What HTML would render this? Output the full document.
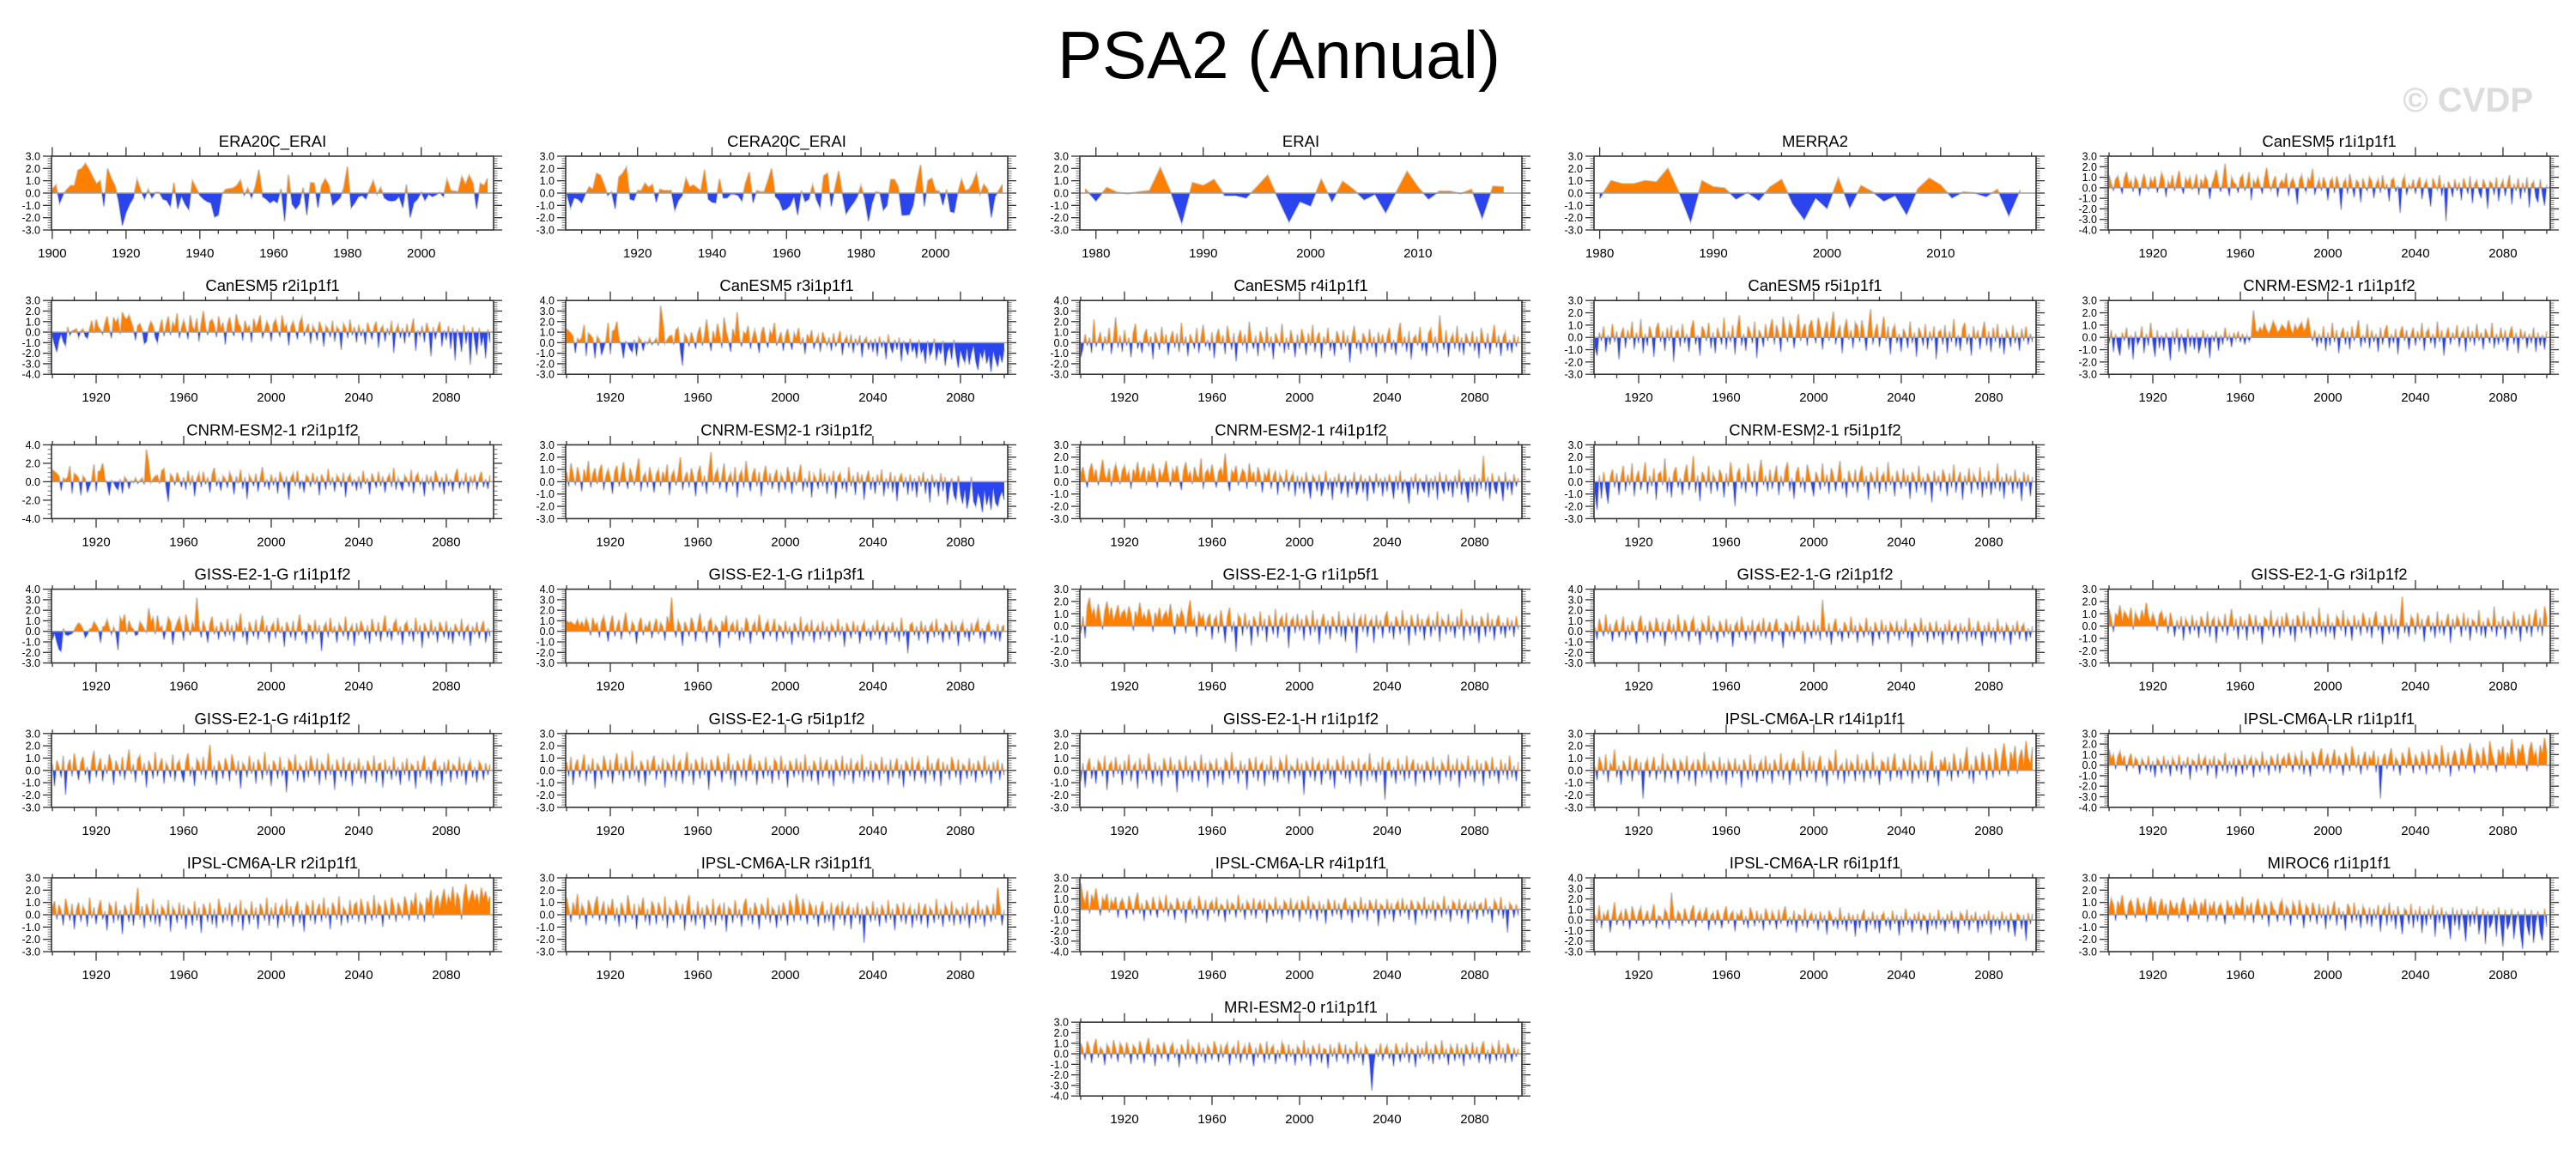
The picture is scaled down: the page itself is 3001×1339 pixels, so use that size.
<!DOCTYPE html>
<html><head><meta charset="utf-8"><title>PSA2 (Annual)</title>
<style>
html,body{margin:0;padding:0;background:#fff;}
svg{display:block;font-family:"Liberation Sans",Arial,sans-serif;}
</style></head>
<body>
<svg id="chart" xmlns="http://www.w3.org/2000/svg" width="3001" height="1339" viewBox="0 0 3001 1339">
<rect x="0" y="0" width="3001" height="1339" fill="#fff"/>
<text x="1490" y="91" font-size="78" text-anchor="middle" fill="#000">PSA2 (Annual)</text>
<text x="2951" y="130" font-size="40" font-weight="bold" text-anchor="end" fill="#dcdcdc">© CVDP</text>
<g id="panels"></g>
</svg>
<script>
const era20c=[0.3,0.65,-0.85,-0.1,0.3,0.6,0.6,1.85,2.0,2.4,1.9,1.3,0.75,1.0,-1.1,2.0,1.2,0.6,-0.7,-2.65,-1.6,-0.9,-0.4,1.1,0.2,-0.5,0.3,-0.4,0.05,0.05,-0.5,-0.6,-1.1,0.85,-1.3,-0.25,-0.9,-1.35,1.0,0.4,-0.2,-0.5,-0.7,-0.8,-1.95,-1.8,-0.1,0.3,0.35,0.4,0.6,1.05,-0.2,0.4,-0.4,0.5,1.9,-0.3,-0.5,-0.8,-0.6,-0.8,0.35,-2.3,1.5,-0.9,-1.3,-0.9,0.45,-1.8,0.85,0.8,-1.2,0.6,1.15,0.6,-1.0,-0.7,-0.4,0.4,2.15,-1.2,-0.8,-0.3,-0.2,-0.5,0.3,1.0,-0.1,0.45,-0.4,-0.6,-0.65,-0.6,-0.3,-1.2,0.7,-2.0,-0.8,-0.5,0.05,-0.6,-0.1,-0.3,-0.15,0.05,-0.3,1.1,0.2,0.15,0.1,1.35,0.7,1.45,0.8,-1.3,0.8,0.6,1.2];
const cera20c=[-0.1,-1.2,-0.4,-0.5,-0.8,-0.1,0.5,0.3,1.6,1.45,0.7,-0.2,0.1,-1.3,1.3,1.6,2.1,-0.5,-0.6,0.2,0.2,0.8,0.45,0.7,-0.75,0.3,0.2,0.2,0.2,-1.4,-0.6,-0.2,1.2,0.5,0.65,0.4,0.2,1.9,-0.5,-0.75,-0.8,1.15,-0.4,-0.4,-0.1,-0.1,-0.2,-0.65,0.8,1.7,-0.8,0.2,0.1,0.1,1.0,2.0,-0.3,-0.6,-1.4,-1.3,-1.0,-0.3,-1.8,0.2,-0.7,-0.5,0.65,-0.5,-1.2,1.4,1.6,-1.1,0.4,1.8,-0.1,-1.7,-1.2,-0.8,-0.3,0.6,-0.5,-2.3,-0.8,0.1,0.05,-1.4,-1.0,1.1,1.1,0.5,-1.8,-1.8,-1.75,-1.0,0.9,2.3,-1.1,1.0,1.2,0.2,0.15,-1.0,0.3,-1.5,-1.6,0.0,1.1,0.2,0.3,0.8,1.6,-0.1,0.7,0.3,-2.0,-0.3,0.2,0.7];
const erai=[0.35,-0.65,0.45,0.05,-0.05,0.1,0.2,2.05,0.0,-2.45,0.85,0.6,1.1,-0.2,-0.2,-0.4,0.5,1.45,-0.5,-2.35,-0.7,-1.05,1.1,-0.7,0.95,0.3,-0.55,-0.1,-1.6,0.1,1.75,0.5,-0.5,0.15,0.15,-0.05,0.3,-2.05,0.55,0.5];
const merra2=[-0.45,1.0,0.75,0.75,1.0,0.9,2.0,0.0,-2.35,1.0,0.5,0.4,-0.5,0.05,-0.6,0.5,1.1,-0.9,-2.15,-0.4,-1.25,1.2,-1.2,0.6,0.1,-0.65,-0.2,-1.75,0.35,1.2,0.65,-0.4,0.1,0.0,-0.3,0.3,-1.85,0.25];
const cs1=[1.2,0.4,-0.3,0.8,1.1,0.2,-0.6,0.9,1.5,0.3,0.7,-0.4,1.0,0.6,-0.8,0.5,1.3,0.2,-0.2,0.9,0.4,1.1,-0.5,0.3,1.4,0.8,-0.9,0.6,0.2,1.2,-0.3,0.7,1.6,0.1,-0.6,0.9,0.5,1.0,-0.2,0.4,1.3,-0.7,0.8,0.2,1.1,0.6,-1.1,0.3,0.9,1.7,0.4,-0.4,0.6,2.3,0.2,-0.8,1.0,0.5,0.3,-0.5,0.9,1.2,-0.3,0.4,1.5,-1.2,0.7,0.3,1.0,0.2,-0.6,0.8,1.9,0.5,-0.2,0.6,1.1,-0.9,0.4,0.7,0.3,1.4,-0.8,0.5,0.9,0.2,-1.6,0.7,1.2,0.1,-0.4,0.9,0.6,1.8,-0.7,0.2,0.8,-0.3,1.0,0.4,-1.2,0.6,0.9,-0.5,1.1,0.3,-2.1,0.4,0.8,-0.6,1.3,0.2,-0.9,0.7,0.5,-1.4,0.9,0.1,-0.3,1.0,0.6,-1.0,0.3,0.8,-0.5,1.2,-0.2,0.4,-1.3,0.7,0.9,-0.4,0.2,-2.4,0.6,1.1,-0.7,0.3,-0.1,0.8,-0.6,0.5,1.0,-1.1,0.2,0.7,-0.4,-1.8,0.9,0.3,-0.2,1.2,-0.8,0.4,-3.2,0.6,0.1,-0.9,0.8,-0.3,0.5,-1.2,0.9,0.2,-0.6,1.1,-1.5,0.3,0.7,-0.4,-1.0,0.8,0.2,-2.0,0.6,0.4,-0.7,1.0,-1.3,0.2,0.7,-0.8,0.3,1.2,-1.6,0.4,-0.3,0.9,-1.1,0.5,-0.5,1.0,-1.9,0.3,0.6,-0.9,-1.4,0.8,-0.6,-1.7,0.3];
const cs2=[-0.4,-1.2,-1.9,-0.8,-0.2,-0.9,-1.3,0.5,-0.3,0.1,0.2,0.3,-0.5,0.1,0.3,-0.4,-0.6,0.3,1.1,-0.1,1.2,0.5,0.2,-0.2,0.8,1.5,0.3,-0.6,1.4,0.9,1.3,-0.2,1.9,1.4,1.2,1.6,1.0,0.3,-0.8,0.6,0.8,0.2,-1.1,-0.9,0.4,1.0,0.6,-0.5,-1.0,0.3,1.2,-0.4,0.7,1.5,-0.3,0.9,0.5,1.8,-0.6,0.4,1.1,0.3,-0.7,1.6,0.5,0.2,1.3,-0.9,0.8,2.0,0.4,-0.3,1.0,1.2,0.6,-0.5,1.5,0.3,0.9,-1.2,0.7,1.4,0.2,-0.4,1.7,0.8,0.5,-0.8,1.1,0.3,0.6,-1.0,1.3,0.4,0.9,1.6,-0.6,0.2,1.0,0.5,-0.9,0.8,1.2,0.3,-0.5,1.6,0.4,0.7,-1.3,0.5,1.0,0.2,-0.7,0.9,1.4,-0.4,0.3,0.8,-1.1,0.6,0.2,-0.8,1.0,0.4,-1.4,0.6,0.3,-0.5,1.1,-0.9,0.5,0.2,-1.7,0.8,0.4,-0.6,1.2,-0.3,0.5,-1.0,0.7,-0.4,0.3,-1.2,0.9,0.2,-0.7,0.5,1.0,-1.5,0.3,0.6,-0.9,0.4,-0.3,1.1,-2.0,0.2,0.7,-0.6,0.4,-1.1,0.8,-0.5,0.3,1.3,-1.8,0.2,-0.4,0.6,-1.0,0.9,0.1,-2.3,0.5,-0.7,0.3,1.0,-1.4,0.2,-0.8,0.6,-1.6,0.4,-2.7,0.3,-0.5,-1.9,0.7,-1.1,0.2,-3.1,0.5,-0.9,-2.2,0.4,-1.3,-0.4,-2.5,0.3,-1.0];
const cs3=[1.3,1.1,0.9,0.6,-1.0,0.4,0.2,0.5,1.7,-1.3,0.9,0.7,0.4,-1.5,0.6,0.3,-1.2,-0.5,0.2,1.9,-1.1,1.1,1.2,2.0,0.3,-0.2,-1.5,0.1,-0.1,-0.6,-0.9,0.3,-1.3,0.5,0.2,-0.8,0.1,-0.1,0.4,-0.2,0.1,0.4,-0.3,3.5,2.0,-0.1,0.3,0.6,0.7,-0.2,1.2,1.4,-0.7,-2.2,0.8,0.5,-0.4,1.0,0.3,-0.6,0.9,1.5,-0.3,0.6,2.2,0.4,-0.8,1.1,0.3,1.8,0.7,-0.5,2.4,1.0,0.2,-0.9,1.3,0.6,2.9,0.4,-0.4,1.0,0.8,1.6,-0.6,0.5,1.2,0.3,-1.0,0.9,1.5,0.2,-0.5,1.1,0.7,1.9,-0.3,0.4,1.0,-0.8,0.6,1.3,0.2,-0.7,0.9,0.4,1.4,-0.2,0.5,-1.1,0.8,0.3,1.2,-0.6,0.2,0.7,-0.9,1.0,0.4,-0.3,0.5,-0.8,0.9,-0.4,0.3,1.1,-1.2,0.2,0.6,-0.5,0.8,-1.0,0.4,-0.3,0.7,-1.4,0.2,0.5,-0.7,0.3,-0.9,0.4,-1.3,0.6,-0.5,0.2,-1.6,0.8,-0.4,-1.0,0.3,-0.7,0.5,-1.8,0.2,-0.6,-1.2,0.4,-0.9,-0.3,-1.5,0.3,-1.0,-0.6,-2.0,0.2,-1.3,-0.8,0.4,-1.7,-0.5,-1.1,0.2,-2.2,-0.9,-0.4,-1.6,0.3,-1.2,-2.4,-0.7,-1.4,-1.9,-0.5,-2.1,-1.0,-0.3,-1.8,-2.6,-0.9,-1.5,-0.6,-2.0,-1.2,-2.8,-0.8,-1.6,-2.3,-1.1,-1.9,-0.6];
const cs4=[-1.4,-0.6,0.8,-0.3,0.5,-1.0,2.2,-0.4,0.3,1.0,-0.8,0.6,-0.2,1.4,-1.1,0.4,2.4,-0.5,0.7,-0.9,1.2,-0.3,0.5,-1.4,0.9,1.8,-0.6,0.2,-1.0,0.7,1.3,-0.4,0.6,-1.6,1.0,0.3,-0.7,1.5,-0.2,0.8,-1.2,0.4,1.1,-0.5,0.9,-0.9,1.9,-0.3,0.6,-1.3,0.8,0.2,-0.6,1.4,-1.0,0.5,1.7,-0.4,0.3,-0.8,1.0,-1.5,0.6,1.3,-0.2,0.7,-1.1,1.6,0.4,-0.7,0.9,-1.8,0.5,1.2,-0.3,0.8,-1.0,2.0,0.2,-0.6,0.7,-1.3,1.1,0.4,-0.8,1.5,-0.5,0.6,-1.6,0.9,0.3,-0.4,1.8,-1.0,0.5,-0.7,1.2,0.2,-1.4,0.8,-0.6,1.3,0.4,-1.2,0.9,-0.3,1.7,-0.9,0.5,1.0,-1.5,0.6,-0.2,1.4,-0.8,0.3,-1.3,1.1,0.5,-0.7,1.2,-0.4,0.7,-1.9,0.5,1.6,-0.6,0.3,-1.1,0.9,0.4,-0.8,1.3,-0.5,0.6,-1.4,1.0,-0.2,0.8,-1.0,0.5,1.4,-0.7,0.3,-1.2,0.8,1.9,-0.4,0.6,-0.9,1.1,-1.6,0.4,0.7,-0.3,1.5,-0.8,0.2,-1.3,0.9,1.3,-0.5,0.6,-1.0,2.6,0.4,-0.7,1.2,-1.4,0.3,0.8,-0.6,1.6,-0.9,0.5,-1.2,0.9,0.2,-0.4,1.1,-0.8,0.6,-1.5,1.4,0.3,-0.6,0.9,-1.1,0.4,1.7,-0.5,0.7,-1.3,0.5,1.0,-0.8,0.3,-1.0,0.8,-0.4,0.6];
const cs5=[-0.8,-1.5,0.4,-0.3,0.9,-1.2,0.2,-0.6,1.1,-0.4,0.5,-1.8,0.3,0.8,-0.9,0.6,-0.2,1.3,-1.0,0.4,-0.5,1.5,-1.3,0.3,-0.7,0.9,0.2,-1.6,0.7,1.2,-0.4,0.5,-1.1,0.8,-0.3,1.0,-2.0,0.4,0.6,-0.8,1.1,-0.5,0.3,-1.2,0.7,1.4,-0.6,0.2,-1.5,0.9,0.5,-0.3,1.2,-0.9,0.4,-1.3,0.8,0.1,-0.6,1.6,-1.0,0.5,-0.4,1.0,-1.4,0.6,1.8,-0.7,0.3,-1.1,0.9,0.4,-0.5,1.3,-1.7,0.6,0.2,-0.8,1.1,-0.3,0.7,1.5,-0.6,1.0,0.3,-1.2,1.7,0.5,-0.4,1.2,0.8,-0.9,0.4,1.9,-0.3,0.6,1.1,-0.7,0.9,1.4,0.3,-0.5,1.6,0.8,-1.0,0.5,1.3,-0.3,0.9,2.1,-0.6,0.4,1.0,-1.3,0.7,1.5,-0.2,0.6,-0.9,1.2,0.9,-0.4,1.4,0.3,-1.1,0.8,2.3,-0.6,0.5,1.1,-0.8,0.4,1.7,-0.3,0.9,-1.4,0.6,1.0,-0.5,0.3,-1.2,0.7,0.2,-0.9,1.3,-0.5,0.4,-1.6,0.8,0.3,-0.7,1.1,-1.0,0.5,-0.3,0.9,-1.8,0.4,0.6,-0.6,1.0,-1.3,0.5,-0.4,1.5,-0.8,0.2,-1.1,0.7,1.2,-0.6,0.3,-1.5,0.9,-0.2,0.6,-1.0,0.4,1.3,-0.7,0.5,-1.2,0.8,-0.4,1.1,-0.9,0.3,-1.4,0.6,0.2,-0.8,1.0,-0.5,0.4,-1.1,0.7,-0.3,0.9,-0.6,0.3,-0.4];
const cn1=[-0.5,0.6,-1.2,0.3,-0.8,-1.5,0.4,-0.3,0.8,-1.0,0.2,-1.8,0.5,-0.6,-0.2,0.9,-1.3,0.3,-0.7,1.2,-0.4,-1.6,0.6,-0.9,0.2,-1.1,0.4,-0.3,-1.9,0.5,-0.6,0.8,-1.2,0.3,-0.5,-1.4,0.7,-0.8,0.2,-1.0,0.4,-1.3,-0.5,0.6,-0.9,0.3,-1.7,0.2,-0.4,0.5,-1.1,0.2,-0.6,0.8,-0.3,0.2,-0.8,0.4,-0.2,0.5,-0.4,0.3,-0.6,0.2,-0.3,0.1,2.2,0.6,0.4,0.8,0.5,1.1,0.6,0.3,0.7,1.3,0.9,0.4,0.6,1.0,0.8,0.5,1.4,0.7,0.3,1.0,0.6,0.9,1.2,0.5,0.8,1.6,0.4,-0.3,0.6,-0.8,0.3,-0.5,0.9,-1.1,0.4,-0.7,1.2,-0.4,0.6,-1.3,0.3,0.8,-0.6,0.5,-1.0,0.9,-0.3,0.4,1.4,-0.8,0.2,-0.5,1.1,-0.9,0.6,-0.4,0.3,-1.2,0.8,-0.6,0.5,1.0,-0.9,0.3,-0.5,0.7,-1.4,0.4,0.9,-0.3,0.6,-1.0,0.2,0.8,-0.7,0.5,-0.3,1.2,-1.1,0.4,0.7,-0.5,0.3,-0.9,1.3,-0.4,0.6,-1.5,0.2,0.8,-0.6,0.4,-0.2,1.0,-0.8,0.3,0.6,-1.2,0.9,-0.4,0.5,-0.7,1.1,-0.3,0.4,-1.0,0.7,0.2,-0.5,1.2,-0.9,0.3,-0.6,0.8,-0.4,0.6,-1.1,0.3,0.9,-0.6,0.4,-1.3,0.7,-0.2,0.5,-0.9,0.3,-0.5,0.8,-1.2,0.4,-0.7,0.2,-1.0,0.5];
const cn2=[1.3,1.1,0.9,0.6,-1.0,0.4,0.2,0.5,1.7,-1.3,0.9,0.7,0.4,-1.5,0.6,0.3,-1.2,-0.5,0.2,1.9,-1.1,1.1,1.2,2.0,0.3,-0.2,-1.5,0.1,-0.1,-0.6,-0.9,0.3,-1.3,0.5,0.2,-0.8,0.1,-0.1,0.4,-0.2,0.1,0.4,-0.3,3.5,2.0,-0.1,0.3,0.6,0.7,-0.2,1.2,1.4,-0.7,-2.2,0.8,0.5,-0.4,1.0,0.3,-0.6,0.5,-0.9,1.2,-0.4,0.7,-1.6,0.3,0.9,-0.6,1.1,-0.3,0.5,-1.2,0.8,1.5,-0.5,0.2,-1.0,0.6,0.3,-0.7,1.0,0.4,-1.4,0.6,-0.2,1.3,-0.8,0.5,-1.9,0.7,0.2,-0.5,0.9,-1.1,0.4,1.6,-0.6,0.3,-0.9,0.8,-0.4,0.5,-1.3,1.1,0.3,-0.7,0.6,-2.0,0.4,0.9,-0.5,1.2,-0.8,0.2,-1.2,0.7,0.4,-0.6,1.0,-0.3,0.6,-1.5,0.8,0.2,-0.9,1.4,-0.4,0.5,-1.1,0.7,0.3,-0.6,1.0,-1.7,0.4,0.8,-0.5,0.3,-1.0,0.6,-0.8,1.2,-0.3,0.4,-1.4,0.9,0.2,-0.7,1.1,-0.5,0.6,-1.2,0.3,0.8,-0.6,1.5,-0.9,0.4,-0.3,-1.0,0.7,0.3,-0.6,1.3,-1.3,0.5,0.9,-0.4,0.2,-1.6,0.8,-0.3,0.6,-1.0,1.2,0.4,-0.7,0.5,-1.4,0.9,-0.5,0.3,-1.1,0.7,1.4,-0.8,0.2,-0.4,1.0,-1.3,0.6,-0.2,0.8,-0.9,0.4,1.1,-0.6,0.3,-0.8,0.7];
const cn3=[0.8,-0.4,1.5,0.6,-0.3,1.2,0.4,-0.8,1.0,0.3,1.7,-0.5,0.6,1.1,-0.2,0.9,1.4,-0.7,0.5,1.0,0.3,-1.0,0.8,1.3,-0.4,0.6,1.6,0.2,-0.6,1.1,0.5,-0.3,0.9,1.9,-0.8,0.4,0.7,-0.5,1.2,0.3,-0.9,0.6,1.0,-0.4,0.8,0.2,1.4,-1.1,0.5,0.9,-0.3,0.6,2.0,-0.7,0.3,0.8,-0.5,1.1,0.4,-1.2,0.7,1.3,-0.4,0.5,-1.0,0.9,2.4,-0.3,0.6,1.0,-0.6,0.4,1.5,-0.9,0.3,0.7,-0.4,1.2,-1.3,0.5,0.9,-0.5,1.7,0.3,-0.8,0.6,1.1,-0.4,0.8,-1.2,0.5,1.3,-0.3,0.7,-0.6,0.4,1.0,-0.9,0.6,0.2,-0.7,1.2,0.4,-1.0,0.8,-0.3,0.5,1.4,-0.8,0.3,-0.5,0.9,-1.3,0.6,0.2,-0.6,1.1,-0.4,0.7,-1.0,0.5,-0.3,0.9,-1.4,0.4,0.7,-0.6,0.3,-0.9,1.2,-0.4,0.5,-1.1,0.8,-0.2,0.6,-1.5,0.3,0.9,-0.7,0.4,-1.0,0.6,-0.3,1.0,-1.2,0.3,-0.6,0.8,-0.9,0.5,-1.6,0.2,0.7,-0.5,0.4,-1.1,0.6,-0.8,0.3,-1.3,0.5,-0.4,0.8,-1.0,0.3,-1.7,0.6,-0.5,0.2,-1.2,0.7,-0.8,0.4,-1.9,-0.6,0.3,-1.1,-1.5,0.5,-1.0,-1.8,-0.6,-2.2,-1.3,0.4,-1.6,-2.0,-0.9,-1.4,-2.5,-0.7,-1.9,-1.1,-2.3,-0.5,-1.7,-2.0,-1.2,-0.8,-1.5];
const cn4=[0.6,1.2,0.3,-0.5,0.9,1.5,0.4,1.0,-0.3,0.7,1.8,0.5,0.2,1.1,-0.4,0.8,1.4,0.6,-0.2,0.9,1.3,0.4,0.8,-0.6,1.0,0.5,1.6,0.2,0.7,1.2,-0.3,0.9,0.4,1.5,0.6,-0.5,1.1,0.3,0.8,1.7,0.5,-0.4,1.0,0.6,1.3,0.2,-0.7,0.9,1.6,0.4,0.8,-0.2,1.2,0.5,0.3,1.9,-0.6,0.7,1.0,0.4,1.4,0.3,-0.5,0.8,1.1,0.5,2.3,0.2,-0.8,0.9,0.6,1.3,-0.3,0.4,1.0,0.7,-0.6,1.5,0.3,0.8,-0.4,1.2,0.5,-0.9,0.7,0.3,1.1,-0.6,0.4,0.9,-1.1,0.6,0.2,-0.5,1.0,-0.8,0.3,0.7,-1.2,0.5,-0.6,0.4,-1.0,0.8,-0.3,-1.4,0.5,0.2,-0.8,0.6,-1.2,-0.4,0.9,-0.7,0.3,-1.5,0.4,-0.5,0.7,-1.0,-0.3,0.5,-1.3,0.2,-0.6,0.8,-1.1,-0.4,0.6,-0.9,0.3,-1.6,0.5,-0.2,-1.0,0.7,-0.5,0.3,-1.2,0.4,-0.8,0.6,-0.3,-1.4,0.5,-0.7,0.9,-1.0,0.2,-0.5,-1.8,0.4,-0.6,0.7,-1.1,0.3,-0.4,-0.9,0.6,-1.3,0.3,-0.7,0.5,-1.5,0.8,-0.4,-1.0,0.6,-0.8,0.2,-1.3,0.5,-0.6,1.0,-1.1,0.3,-0.5,-1.7,0.4,-0.9,0.6,-1.2,0.3,-0.6,2.1,-0.8,0.4,-1.4,0.7,-0.5,-1.0,0.5,-0.3,-1.6,0.8,-0.7,0.2,-1.1,0.6,-0.4,0.3];
const cn5=[-0.9,-2.3,0.5,-1.4,0.8,-0.6,-1.8,0.3,1.0,-0.5,0.7,-1.1,0.4,1.3,-0.8,0.6,-0.3,1.5,-1.2,0.4,0.9,-0.7,0.3,1.6,-1.0,0.5,-0.4,1.1,-1.5,0.6,0.8,-0.3,1.9,-0.9,0.4,-1.3,0.7,1.2,-0.5,0.3,-1.1,0.6,1.4,-0.7,0.3,2.1,-0.9,0.5,-1.6,0.8,0.4,-0.5,1.3,-1.0,0.6,0.2,-0.8,1.0,0.5,-1.3,0.7,-0.4,1.6,0.3,-2.0,0.6,1.1,-0.6,0.4,-0.9,1.5,0.2,-0.5,0.9,-1.2,0.7,1.8,-0.3,0.5,-0.8,1.0,-0.6,0.4,1.3,-1.1,0.5,-0.4,0.9,1.6,-0.8,0.3,-1.4,0.7,1.2,-0.5,0.4,-0.9,1.4,0.6,-0.3,-1.2,0.8,0.3,-0.7,1.5,-0.4,0.6,-1.0,1.1,0.5,-0.8,0.4,1.7,-0.6,0.3,-1.3,0.9,0.2,-0.5,1.0,-0.9,0.6,1.3,-0.4,0.5,-1.5,0.8,0.3,-0.6,1.2,-1.0,0.4,0.7,-0.8,1.6,-0.3,0.5,-1.2,0.9,0.2,-0.6,1.1,-0.4,0.6,-1.4,0.8,0.3,-0.9,1.3,-0.5,0.4,-1.1,0.7,0.2,-1.7,0.9,-0.3,0.5,-0.8,1.0,0.4,-1.2,0.7,-0.5,1.4,-0.9,0.3,0.8,-1.5,0.5,-0.3,1.1,-1.0,0.6,0.2,-0.7,1.2,-1.3,0.4,-0.6,0.9,-1.1,0.3,-0.6,1.5,-0.8,0.4,-1.4,0.7,-0.3,0.5,-1.0,1.0,-0.6,0.3,-1.6,0.8,-0.4,0.6,-1.2,0.4];
const gs1=[-0.8,-0.2,-1.0,-1.7,-1.9,0.3,-0.3,-0.4,-0.3,-0.2,0.1,0.5,0.8,0.6,0.2,-0.6,-0.3,0.2,0.3,0.9,0.6,0.2,-1.1,0.4,0.5,1.1,0.3,-0.3,0.4,-0.2,-1.8,1.3,0.9,1.6,-0.3,1.0,0.4,0.2,-0.4,-0.3,0.9,0.6,0.2,-0.1,2.2,0.9,1.3,-0.3,1.5,0.3,0.5,-0.8,0.2,1.3,0.9,-1.3,0.2,0.8,1.3,0.4,-0.9,1.6,0.6,-0.4,0.8,0.3,3.2,0.5,-0.6,1.0,0.2,-1.1,0.7,1.4,-0.3,0.5,-0.8,0.9,0.3,-0.5,1.2,-0.4,0.6,-1.0,0.8,0.3,1.7,-0.6,0.4,-1.3,0.9,0.2,-0.5,1.1,-0.8,0.5,1.5,-0.3,0.6,-1.1,0.4,0.8,-0.7,1.3,-0.2,0.5,-1.5,0.9,0.3,-0.6,1.0,-0.9,0.4,1.6,-0.4,0.2,-1.2,0.7,0.5,-0.8,1.1,-0.3,0.6,-1.9,0.4,0.8,-0.6,1.3,-0.2,0.5,-1.1,0.7,0.3,-0.5,1.4,-0.9,0.2,0.6,-1.4,0.8,-0.4,1.0,0.3,-0.8,0.6,-1.2,1.2,0.2,-0.5,0.9,-1.0,0.4,1.5,-0.6,0.3,-0.9,0.7,1.1,-0.4,0.5,-1.3,0.6,0.9,-0.5,0.3,-1.0,1.3,-0.3,0.6,-1.6,0.8,0.2,-0.7,1.1,-0.4,0.5,-1.1,0.9,0.3,-0.6,1.0,-0.8,0.4,-1.2,0.7,0.2,-0.5,1.2,-0.9,0.3,0.6,-1.4,0.5,-0.3,0.9,-0.7,0.4,1.0,-1.1,0.3,-0.5];
const gs2=[1.0,0.8,0.9,0.7,0.6,1.1,0.5,0.9,0.4,1.2,0.6,-0.4,1.3,0.5,0.8,-0.6,0.9,1.4,0.3,-1.0,0.7,1.5,-0.5,0.4,1.1,-0.8,0.6,1.8,0.2,-0.3,0.9,0.5,-1.2,0.7,1.3,-0.4,0.6,0.3,1.0,-0.7,0.5,1.2,-0.3,0.8,0.4,-0.9,1.4,0.6,3.2,0.3,-0.6,1.0,0.5,-1.4,0.9,0.4,-0.5,1.3,0.7,-1.0,0.6,1.7,-0.2,0.5,-1.1,0.9,1.2,-0.4,0.6,0.3,-1.6,1.0,0.4,1.5,-0.7,0.5,0.8,-0.3,1.1,-0.9,0.4,-0.6,1.3,0.7,-1.2,0.5,0.9,-0.4,1.6,0.2,-0.8,0.6,1.0,-0.5,0.3,1.2,-1.0,0.6,0.4,-0.7,1.0,-0.3,0.5,-1.3,0.8,0.3,-0.6,1.4,-0.9,0.4,0.7,-0.5,1.1,-1.1,0.2,0.6,-0.8,1.0,-0.4,0.5,-1.0,0.7,0.3,-0.6,1.2,-0.4,0.5,-1.5,0.8,0.2,-0.7,1.0,-0.3,0.6,-1.2,0.4,0.9,-0.5,0.3,-0.9,0.6,-0.4,1.1,-0.8,0.3,0.7,-1.3,0.5,-0.2,0.9,-0.6,0.4,-1.0,1.3,-0.5,0.2,-2.1,0.6,0.8,-0.4,0.5,-0.9,1.0,-0.3,0.6,-1.2,0.4,0.8,-0.6,1.2,-0.4,0.3,-1.1,0.7,0.5,-0.8,1.0,-0.3,0.6,-1.4,0.4,0.9,-0.6,0.3,-1.0,0.8,-0.4,0.6,1.1,-0.7,0.3,-1.2,0.5,0.9,-0.5,0.2,-0.8,0.7,-1.0,0.4,0.6];
const gs3=[-0.6,0.8,-1.0,1.6,2.3,0.9,1.4,0.5,1.8,0.7,-0.3,1.2,2.0,0.8,1.5,0.4,1.0,1.7,0.6,1.1,1.3,0.5,1.6,0.9,-0.4,1.2,0.7,1.9,0.6,1.0,0.4,1.4,0.8,-0.5,1.1,0.6,1.5,0.3,0.9,1.2,0.6,1.8,0.4,-0.7,1.0,0.5,1.3,0.8,-0.6,1.1,2.1,0.3,0.7,-0.9,1.2,0.5,0.9,-0.4,0.6,1.0,-1.1,0.5,0.8,-0.6,1.3,0.2,-1.4,0.7,1.5,-0.5,0.4,-2.1,0.9,0.6,-0.8,1.1,-0.3,0.5,-1.6,0.8,0.3,-0.9,1.2,-0.4,0.6,-1.3,0.9,0.2,-0.7,1.4,-1.0,0.5,0.8,-0.5,1.1,-1.8,0.4,0.7,-0.6,1.0,-0.4,0.6,-1.2,0.9,0.3,-0.8,1.3,-0.5,0.6,-1.5,0.4,1.0,-0.7,0.5,-1.1,0.8,0.2,-0.6,1.2,-0.9,0.5,-1.3,0.7,0.3,-0.6,1.1,-2.2,0.4,0.8,-0.5,1.0,-0.9,0.3,0.6,-1.4,0.9,-0.3,0.5,-1.0,0.7,1.2,-0.6,0.4,-1.1,0.8,0.3,-0.7,1.3,-0.4,0.5,-1.6,0.9,0.2,-0.8,1.0,-0.5,0.6,-1.2,0.4,0.8,-0.9,0.5,-0.4,1.2,-1.3,0.6,0.3,-0.7,1.0,-0.5,0.4,-1.0,0.8,-0.3,1.4,-1.2,0.5,0.2,-0.8,0.9,-0.6,0.4,-1.4,0.8,0.3,-0.9,1.1,-0.5,0.6,-1.2,0.4,0.9,-0.7,0.3,-1.0,0.7,-0.4,0.5,-0.9,0.8,-0.3];
const gs4=[0.4,-0.8,1.2,0.3,-0.5,1.6,-0.3,0.7,-1.0,0.5,1.1,-0.6,0.3,1.4,-0.9,0.6,-0.4,1.0,0.2,-1.2,0.8,1.5,-0.4,0.6,-1.1,1.0,0.3,-0.7,1.3,0.5,-0.5,0.9,-1.4,0.4,1.2,-0.3,0.7,-0.9,1.6,0.2,-0.6,1.1,0.4,-1.0,0.8,1.3,-0.5,0.3,-1.3,0.9,0.5,-0.4,1.5,-0.8,0.6,0.2,-1.1,1.0,0.4,-0.6,1.2,-0.3,0.7,-1.5,0.5,0.9,-0.6,1.4,0.3,-0.9,0.6,-0.4,1.1,-1.2,0.4,0.8,-0.5,1.3,-0.7,0.3,0.9,-1.0,0.5,1.2,-0.4,0.3,-1.6,0.8,0.6,-0.5,1.0,-0.8,0.4,1.5,-0.3,0.6,-1.2,0.9,0.2,-0.7,1.1,-0.4,0.6,-0.9,3.0,0.4,-0.6,0.8,-1.3,0.5,1.2,-0.5,0.3,-1.0,0.9,0.4,-0.7,1.4,-0.3,0.6,-1.1,0.7,0.3,-0.6,1.3,-0.4,0.5,-1.4,0.9,0.2,-0.8,1.1,-0.3,0.6,-1.2,0.8,0.4,-0.5,1.0,-0.9,0.5,-0.3,1.2,-0.7,0.4,-1.5,0.8,0.3,-0.6,1.3,-0.4,0.6,-1.1,0.9,0.2,-0.8,1.0,-0.5,0.4,-1.3,0.7,-0.4,1.1,-0.9,0.3,0.6,-1.2,0.8,-0.3,0.5,-1.0,1.3,-0.6,0.4,-0.8,1.0,0.2,-1.4,0.6,-0.5,0.9,-0.7,0.4,-1.1,1.2,-0.3,0.5,-0.9,0.7,0.3,-1.3,0.6,-0.4,1.0,-0.8,0.4,0.7,-1.0,0.3,-0.6,0.5];
const gs5=[1.4,0.6,-0.5,1.0,0.8,1.7,0.4,1.2,0.9,0.5,1.5,-0.3,1.1,0.7,0.4,1.3,0.6,1.9,0.8,0.3,1.0,0.5,-0.4,0.9,1.2,0.4,0.7,-0.6,1.1,0.3,-0.9,0.5,-0.3,0.8,-1.2,0.6,0.2,-0.7,0.9,-0.4,0.5,-1.0,0.8,0.3,-0.6,1.2,-0.9,0.4,0.7,-1.4,0.6,0.2,-0.5,1.0,-0.8,0.3,1.4,-0.4,0.6,-1.1,0.8,-0.3,0.5,-1.2,1.0,0.4,-0.7,0.9,-0.5,0.3,-1.5,0.7,0.5,-0.4,1.3,-0.9,0.2,0.6,-1.0,0.8,-0.5,1.1,0.3,-0.8,0.6,-1.3,0.9,0.4,-0.6,1.2,-0.4,0.5,-1.0,0.8,0.3,-0.7,1.5,-0.5,0.4,-0.9,1.0,-0.6,0.3,-1.1,0.8,0.5,-0.4,1.3,-0.9,0.6,0.2,-1.2,0.9,-0.3,0.5,-0.8,1.1,0.4,-0.6,0.7,-1.0,0.5,1.2,-0.4,0.3,-1.5,0.9,0.2,-0.7,1.0,-0.5,0.6,-1.1,0.4,2.4,-0.6,0.3,-0.9,0.8,0.5,-0.7,1.1,-0.3,0.6,-1.3,0.4,0.9,-0.5,0.3,-1.0,1.2,-0.6,0.5,-0.8,0.3,1.0,-1.4,0.6,-0.3,0.8,0.4,-0.9,1.1,-0.4,0.7,-1.2,0.5,0.3,-0.6,1.3,-0.8,0.4,-1.0,0.7,0.2,-0.5,1.6,-0.9,0.4,-0.3,0.8,-1.1,0.5,0.3,-0.7,1.2,-0.4,0.6,-1.3,0.9,0.3,-0.6,1.0,-0.9,0.5,1.4,-0.5,0.7,-0.8,1.6,0.6];
const gs6=[0.5,-1.3,0.8,0.3,-0.6,1.2,-2.0,0.4,0.9,-0.5,1.4,0.2,-0.8,0.6,1.1,-0.4,0.3,-1.1,0.7,1.6,-0.6,0.4,1.0,-0.9,0.5,-0.3,1.3,0.6,-1.2,0.8,0.3,-0.5,1.1,-0.8,0.4,1.7,-0.3,0.5,-1.0,0.9,1.2,-0.4,0.6,-1.4,0.8,0.3,-0.7,1.5,-0.5,0.4,1.0,-1.1,0.6,0.2,-0.6,1.3,-0.9,0.5,0.8,-0.3,-1.0,0.7,1.4,-0.5,0.3,-1.3,0.9,0.6,-0.4,1.1,-0.8,0.5,2.1,-0.6,0.4,-1.2,0.8,0.3,-0.7,1.0,0.4,-0.9,1.3,0.5,-0.4,0.8,-1.5,0.6,0.3,-0.6,1.2,-0.3,0.7,-1.1,0.9,0.4,-0.8,1.5,-0.4,0.5,-1.3,0.8,0.4,-0.7,1.1,-0.5,0.3,-1.8,0.9,0.6,-0.4,1.3,-0.9,0.5,0.2,-1.0,0.8,-0.6,1.2,0.4,-0.5,1.0,-1.2,0.6,0.3,-0.8,1.4,-0.4,0.5,-1.6,0.9,0.2,-0.6,1.1,-0.9,0.4,0.7,-1.3,0.6,-0.3,1.0,-0.7,0.4,-1.1,0.8,0.3,-0.5,1.2,-1.0,0.5,0.6,-1.4,0.9,-0.3,0.4,-0.8,1.1,-0.5,0.3,-1.2,0.7,-0.4,1.0,-0.9,0.5,0.3,-1.5,0.8,-0.6,0.4,1.2,-0.8,0.3,-1.1,0.6,0.9,-0.5,0.4,-1.3,0.7,-0.3,0.9,-1.0,0.5,0.3,-0.7,1.1,-0.5,0.6,-1.2,0.4,0.8,-0.6,0.3,-1.0,0.7,0.4,-0.8,0.6,-0.4,0.5];
const gs7=[0.7,-0.5,1.1,-1.2,0.4,0.9,-0.6,0.3,1.3,-0.9,0.5,-0.3,1.0,-1.5,0.6,0.2,-0.8,1.2,0.4,-0.6,0.9,-1.1,0.5,1.4,-0.4,0.6,-0.9,1.1,0.3,-0.7,1.6,-0.5,0.4,-1.0,0.8,0.3,-1.3,0.9,-0.4,0.6,1.2,-0.8,0.5,-0.3,1.0,-1.4,0.7,0.4,-0.6,1.3,-0.9,0.5,0.8,-1.1,0.3,1.5,-0.5,0.6,-1.2,0.9,0.4,-0.7,1.1,-0.4,0.6,-1.6,0.9,0.3,-0.5,1.2,0.4,-1.0,0.7,-0.3,1.4,-0.8,0.5,-1.3,0.8,0.3,-0.6,1.0,-0.9,0.5,1.3,-0.4,0.6,-1.2,0.8,0.2,-0.7,1.1,-0.5,0.4,-1.1,0.9,0.6,-0.8,1.2,-0.3,0.5,-1.4,0.8,0.3,-0.6,1.0,-0.4,0.7,-1.0,1.3,-0.5,0.4,-0.9,0.8,0.3,-1.2,1.1,-0.6,0.4,0.9,-0.7,0.5,-1.3,0.9,0.3,-0.5,1.2,-0.8,0.6,-0.4,1.0,-1.1,0.4,0.7,-0.6,1.3,-0.9,0.3,-0.5,0.8,-1.0,0.6,0.4,-0.8,1.1,-0.3,0.5,-1.2,0.9,-0.6,0.3,1.0,-0.7,0.5,-1.4,0.8,0.4,-0.5,1.1,-0.9,0.4,0.8,-0.6,0.3,-1.1,1.2,-0.4,0.6,-0.9,0.5,1.0,-1.3,0.7,-0.3,0.5,-0.8,1.1,0.4,-0.6,0.9,-1.2,0.5,0.3,-0.7,1.0,-0.5,0.6,-1.0,0.8,0.3,-0.6,1.2,-0.4,0.5,-1.1,0.7,-0.3,0.9,-0.8,0.6,-0.4];
const gh=[-0.9,0.6,-1.4,0.4,1.0,-0.7,0.3,-1.1,0.8,0.5,-0.5,1.2,-1.6,0.4,0.7,-0.6,1.1,-0.3,0.5,-1.2,0.8,-0.4,1.3,-0.9,0.3,0.6,-1.5,1.0,-0.3,0.5,-0.8,1.4,0.2,-1.1,0.7,-0.5,0.4,-1.3,1.0,0.3,-0.6,1.1,-0.4,0.5,-1.8,0.9,0.3,-0.7,1.2,-0.5,0.4,-1.0,0.8,0.2,-0.9,1.3,-0.4,0.6,-1.4,0.7,0.4,-0.8,1.0,-0.5,0.3,-1.2,0.9,0.6,-0.7,1.5,-0.4,0.3,-1.1,0.8,-0.3,0.5,-1.6,1.0,0.4,-0.6,1.1,-0.9,0.4,0.7,-1.3,0.5,-0.4,1.2,-0.8,0.3,-1.0,0.9,0.5,-0.6,1.3,-1.1,0.4,0.2,-0.7,1.0,-0.5,0.6,-2.0,0.8,0.3,-0.6,1.1,-0.9,0.4,0.7,-1.2,0.5,-0.3,1.0,-0.8,0.4,-1.5,0.9,0.3,-0.4,1.2,-0.7,0.5,-1.1,0.8,0.3,-0.6,1.0,-1.3,0.4,0.6,-0.9,1.4,-0.5,0.3,-1.0,0.7,-0.4,1.1,-2.4,0.5,0.8,-0.6,0.3,-1.1,1.0,-0.4,0.5,-0.9,1.2,-0.7,0.4,0.9,-1.3,0.6,-0.3,0.5,-1.0,0.8,0.3,-0.8,1.1,-0.5,0.4,-1.2,0.7,0.3,-0.6,1.3,-0.9,0.5,-0.4,1.0,-1.4,0.6,0.3,-0.7,1.2,-0.5,0.4,-1.0,0.9,-0.3,0.6,-1.3,0.8,0.4,-0.7,1.1,-0.5,0.3,-1.1,0.9,-0.4,0.6,-0.8,1.2,-0.6,0.4,-0.9,0.7];
const ip14=[0.3,-0.8,1.1,0.5,-0.4,1.3,-1.0,0.6,0.2,1.7,-0.6,0.4,-1.2,0.8,0.3,-0.5,1.2,-0.9,0.5,1.0,-0.4,0.7,-2.3,0.5,0.9,-0.6,0.3,1.1,-0.8,0.4,-0.3,1.4,-1.0,0.6,0.2,-0.7,1.0,0.4,-1.1,0.8,0.5,-0.5,1.2,-0.9,0.3,0.7,-1.3,0.9,0.4,-0.6,1.5,-0.4,0.5,-1.0,0.8,0.3,-0.7,1.1,-0.5,0.6,-1.2,0.8,0.4,-0.6,1.0,-0.3,0.5,-1.4,0.9,0.3,-0.8,1.3,-0.5,0.6,-1.0,0.4,0.8,-0.7,1.2,-0.4,0.6,-1.1,0.9,0.3,-0.5,1.4,-0.8,0.4,0.7,-1.2,0.5,1.0,-0.4,0.6,-0.9,1.6,0.3,-0.6,1.1,-0.3,0.8,-1.0,0.5,1.2,-0.6,0.4,-1.3,0.9,0.6,-0.4,1.7,-0.8,0.3,0.5,-1.1,1.0,-0.5,0.7,0.4,-0.9,1.3,-0.4,0.6,-1.0,0.9,0.3,-0.7,1.5,-0.5,0.4,-1.2,0.8,0.6,-0.3,1.1,-0.9,0.5,1.4,-0.6,0.3,-0.8,1.0,0.4,-0.5,1.3,-1.1,0.6,0.3,-0.7,1.2,-0.4,0.8,-1.0,0.5,1.6,-0.6,0.4,-1.3,0.9,0.3,1.1,-0.5,0.7,-0.9,1.4,0.4,-0.6,1.0,-0.3,0.8,1.9,-0.7,0.5,-1.1,1.2,0.4,-0.4,1.5,0.6,-0.8,1.3,0.5,-0.6,1.8,0.9,-0.4,1.2,2.2,0.6,-0.5,1.5,0.8,2.0,-0.3,1.1,1.7,0.4,2.4,1.0,0.6,1.9];
const ip1=[1.5,0.6,1.0,-0.4,0.8,1.3,0.3,0.9,-0.6,0.5,1.1,-0.3,0.7,0.4,-0.9,0.6,0.2,-0.5,0.9,-0.7,0.4,-1.2,0.6,0.3,-0.8,0.9,-0.4,0.5,-1.1,0.7,0.2,-0.6,1.0,-0.9,0.4,-0.3,0.8,-1.4,0.5,0.3,-0.7,1.1,-0.5,0.4,0.8,-1.0,0.6,-0.3,0.9,-1.3,0.5,0.3,-0.6,1.2,-0.8,0.4,-0.4,0.7,-1.1,0.6,0.3,-0.9,1.0,-0.5,0.4,0.8,-1.2,0.6,0.3,-0.7,1.3,-0.4,0.5,-1.0,0.9,0.4,-0.6,1.1,-0.8,0.5,0.8,-0.3,1.2,0.4,-0.7,1.0,0.5,-0.5,1.4,-0.9,0.6,0.3,-1.1,1.3,0.7,-0.4,0.9,1.6,-0.6,0.5,1.1,-0.8,0.6,1.5,-0.4,0.9,0.3,-1.0,1.2,0.5,-0.6,1.8,0.7,-0.3,1.0,-0.9,0.6,1.3,-0.5,0.8,0.4,1.4,-0.7,0.9,-3.2,0.5,1.1,-0.4,0.8,1.6,-0.6,0.7,0.3,-1.0,1.2,0.5,-0.3,1.7,0.6,-0.8,1.0,0.4,-0.5,1.3,0.7,-0.9,1.5,0.3,-0.4,1.1,0.8,-0.7,1.9,0.5,-0.3,1.2,-1.1,0.7,1.4,0.4,-0.6,1.6,0.8,-0.4,1.1,2.1,0.5,-0.8,1.3,0.9,-0.3,1.7,0.6,-0.5,2.3,1.0,0.4,-0.7,1.5,0.8,1.8,-0.4,1.2,0.6,2.5,0.9,-0.3,1.6,1.1,2.0,0.5,-0.6,1.4,2.2,0.8,1.3,-0.2,1.9,1.0,2.6,1.2];
const ip2=[0.6,1.1,-0.4,0.8,0.3,-0.9,1.3,0.5,-0.5,0.9,-1.2,0.4,1.0,-0.6,0.7,0.3,-1.0,1.4,-0.3,0.6,-0.8,0.5,1.2,-0.4,0.3,-1.3,0.9,0.6,-0.7,1.1,-0.5,0.4,-1.6,0.8,0.3,-0.6,1.0,-0.9,0.5,2.2,-0.4,0.7,-1.1,0.9,0.3,-0.6,1.3,-0.8,0.5,-1.0,0.7,0.4,-0.5,1.2,-1.4,0.6,0.3,-0.7,1.0,-0.4,0.8,-1.2,0.5,0.3,-0.9,1.1,-0.5,0.6,-1.5,0.9,0.4,-0.6,1.0,-0.8,0.5,-1.1,1.3,0.3,-0.7,0.6,-0.5,1.0,-1.0,0.4,0.7,-0.6,1.2,-1.3,0.5,0.3,-0.8,1.1,-0.4,0.6,-1.2,0.9,0.4,-0.5,1.4,-0.9,0.6,-0.4,1.0,-1.1,0.5,0.8,-0.6,1.3,-0.3,0.7,-1.0,0.5,1.1,-0.7,0.4,-1.4,0.9,0.6,-0.5,1.2,-0.8,0.4,0.9,-0.6,1.4,-0.3,0.6,-1.2,1.0,0.5,-0.4,1.5,-0.9,0.6,0.3,-0.7,1.2,-0.4,0.8,1.0,-0.6,1.3,0.5,-0.8,1.1,0.4,-0.5,1.6,-0.3,0.9,0.6,-1.0,1.2,0.4,-0.4,1.4,0.7,-0.6,1.0,0.5,-0.3,1.5,0.8,-0.5,1.2,0.6,1.8,-0.4,1.0,0.7,-0.6,1.4,0.9,2.0,-0.3,1.1,1.6,0.5,1.3,2.1,0.7,1.5,1.0,2.3,0.6,1.8,1.2,-0.4,1.6,2.5,0.9,1.4,2.0,1.1,1.7,0.8,2.2,1.3,1.9,1.0,1.5];
const ip3=[1.4,0.5,-0.6,1.0,0.3,1.7,-0.4,0.8,0.4,-0.9,1.2,0.6,-0.3,0.9,1.5,-0.5,0.4,1.1,-0.8,0.7,0.3,1.3,-0.5,0.6,-1.0,1.0,0.4,-0.7,1.6,0.5,-0.4,0.9,-1.2,0.7,0.3,1.4,-0.6,0.5,-0.9,1.1,0.6,-0.8,1.0,0.4,-0.5,1.5,-1.1,0.6,0.3,-0.7,1.2,0.5,-0.4,0.9,-1.3,0.7,1.6,-0.6,0.4,-0.9,1.1,-0.4,0.6,-1.2,0.8,0.3,-0.6,1.3,-0.9,0.5,0.8,-0.5,1.0,-1.4,0.6,0.4,-0.7,1.2,-0.3,0.5,-1.0,0.8,1.3,-0.5,0.6,-0.8,1.0,0.4,-1.2,0.9,0.5,-0.4,1.4,-0.7,0.6,0.3,-1.1,0.8,-0.5,1.0,0.4,-0.9,1.2,0.6,-0.6,1.7,0.9,-0.5,1.3,0.4,-0.8,1.0,0.6,-0.4,0.8,-1.0,0.5,1.1,-0.7,0.4,-0.6,1.0,-1.3,0.5,0.8,-0.4,1.1,-0.9,0.4,0.7,-1.2,0.6,-0.3,1.0,-0.8,0.5,-2.3,0.7,0.3,-0.6,1.1,-0.5,0.6,-1.0,0.8,0.3,-0.7,1.2,-0.4,0.5,-1.3,0.9,0.4,-0.6,1.0,-0.8,0.3,0.7,-1.1,0.5,-0.5,1.0,-0.8,0.4,0.9,-1.1,0.6,0.3,-0.7,1.3,-0.4,0.5,-1.0,0.8,0.4,-0.6,1.1,-0.9,0.5,0.3,-0.8,0.7,-0.5,1.0,-1.1,0.4,0.6,-0.7,1.2,-0.4,0.5,-1.0,0.8,0.3,-0.6,0.9,-0.4,2.2,0.7,-0.9,0.4];
const ip4=[2.5,1.2,0.6,1.8,-0.4,1.4,0.8,2.0,0.5,-0.6,1.1,0.7,1.5,-0.3,0.9,0.4,1.2,-0.8,0.6,1.0,0.3,-0.9,1.3,0.5,-0.5,0.8,1.6,-0.4,0.6,-1.1,0.9,0.4,-0.6,1.2,0.3,-0.8,1.0,0.5,-0.3,1.4,-0.7,0.6,0.3,-1.0,1.1,0.5,-0.4,0.8,-1.3,0.6,1.0,-0.5,0.4,-0.9,1.3,0.3,-0.6,0.9,-1.1,0.5,0.8,-0.4,1.2,-0.7,0.5,0.3,-1.2,1.0,-0.5,0.6,0.4,-0.8,1.4,-0.3,0.6,-1.0,0.8,0.4,-0.6,1.1,-0.9,0.5,0.8,-0.4,1.0,-1.3,0.6,0.3,-0.7,1.2,-0.5,0.4,-1.0,0.8,0.5,-0.6,1.1,-0.8,0.3,0.7,-1.2,0.9,0.4,-0.5,1.3,-0.9,0.6,0.3,-1.1,0.8,-0.4,0.5,-1.4,1.0,0.4,-0.7,0.9,-0.5,0.6,-1.0,0.5,1.1,-0.6,0.4,-1.3,0.8,0.3,-0.8,1.2,-0.5,0.6,-1.1,0.9,0.4,-0.4,1.0,-1.6,0.5,0.3,-0.9,1.0,-0.5,0.6,-1.2,0.4,0.8,-0.7,1.1,-0.4,0.5,-1.0,0.9,0.3,-1.5,0.7,0.4,-0.6,1.2,-0.9,0.5,-0.4,0.9,-1.1,0.6,0.3,-0.8,1.3,-0.5,0.4,-1.2,0.8,0.5,-0.6,1.0,-0.9,0.3,0.7,-1.4,0.6,-0.3,0.8,-1.0,0.4,0.6,-0.7,1.1,-0.5,0.3,-1.3,0.9,0.5,-0.6,1.2,-0.9,0.4,-2.2,0.6,0.3,-0.8,0.5,-0.6];
const ip6=[0.5,-0.3,1.4,-0.8,0.6,0.2,1.0,-1.2,0.4,1.7,-0.5,0.3,0.8,-0.6,1.1,0.4,-0.9,1.3,0.5,-0.4,0.7,1.2,-0.6,0.3,0.9,-0.4,0.5,1.5,-0.8,0.4,0.3,-0.5,1.0,0.6,-0.9,2.6,0.4,-0.3,0.8,0.5,-0.6,1.1,0.3,-0.4,0.8,1.4,-0.7,0.5,0.9,-0.3,0.6,1.2,-1.0,0.4,0.7,-0.5,1.0,0.3,-0.8,0.6,1.3,-0.4,0.5,0.8,-1.1,0.6,0.3,1.0,-0.5,0.4,-0.8,1.2,0.5,-0.6,0.9,-0.3,0.6,-1.0,1.1,0.4,-0.5,0.8,0.3,-0.9,1.0,-0.4,0.6,1.3,-0.7,0.3,-0.5,0.9,-1.2,0.5,0.4,-0.6,1.1,-0.8,0.3,0.7,-0.4,0.6,-1.0,0.8,-0.3,0.5,-1.4,0.9,0.4,-0.6,0.3,-0.9,1.2,-0.5,0.4,-1.1,0.7,-0.4,0.5,-1.6,0.6,-0.8,0.4,1.0,-1.2,0.3,-0.5,0.8,-0.9,0.5,-1.3,0.4,0.7,-0.6,0.3,-1.0,0.9,-0.4,0.5,-1.5,0.4,-0.7,1.1,-0.5,0.3,-1.2,0.6,-0.4,0.8,-1.0,0.5,0.3,-1.4,0.7,-0.6,0.4,-0.9,1.0,-0.5,0.3,-1.1,0.6,-0.4,0.9,-0.8,0.3,-1.3,0.7,0.4,-0.6,1.0,-1.0,0.5,-0.3,0.8,-1.2,0.4,-0.7,0.6,-0.5,0.9,-1.4,0.5,-0.6,0.3,-1.0,0.8,-0.5,0.4,-1.2,0.7,-0.3,-1.6,0.6,0.4,-0.9,0.5,-2.0,0.7,-0.4,0.6];
const mi=[0.4,1.3,0.8,-0.5,1.1,0.6,1.6,0.3,-0.4,0.9,1.2,0.5,-0.3,1.4,0.7,0.2,1.0,-0.6,0.8,1.5,0.5,1.1,-0.4,0.7,1.3,0.3,0.9,-0.5,1.2,0.6,0.4,1.0,-0.3,0.8,1.4,0.5,-0.6,0.9,0.3,1.2,0.7,-0.4,1.0,0.5,1.3,-0.6,0.8,0.4,1.1,-0.5,0.6,0.9,0.3,-0.8,1.2,0.5,0.7,-0.4,1.0,0.6,0.4,1.5,-0.5,0.8,0.3,1.0,-0.7,0.6,1.3,0.4,-0.4,0.9,0.6,-1.0,1.1,0.5,0.3,-0.6,0.8,1.2,-0.5,0.7,0.4,-0.9,1.0,0.6,-0.4,1.2,0.3,-1.1,0.8,0.5,-0.6,1.0,0.4,-0.8,0.9,-0.3,0.6,-1.2,0.8,-0.5,0.4,1.1,-0.9,0.6,-0.4,0.3,-1.3,0.9,0.5,-0.7,1.0,-0.5,0.4,-1.1,0.7,0.3,-0.8,0.6,-1.0,0.5,-0.4,0.8,-1.4,0.3,0.6,-0.9,1.0,-0.6,0.4,-1.2,0.7,-0.3,-1.6,0.5,0.3,-0.8,0.9,-1.1,0.4,-0.6,0.7,-1.5,0.3,-0.9,0.5,-0.4,0.8,-1.8,0.4,-0.7,0.6,-1.2,0.3,-0.5,-2.0,0.6,-0.9,0.4,-1.3,0.5,-0.6,-2.2,0.4,-1.0,0.3,-0.8,0.7,-1.6,-0.4,0.5,-2.4,0.3,-1.1,-0.6,0.4,-1.8,0.6,-0.9,-2.6,0.4,-1.2,-0.7,0.5,-2.0,-0.4,0.3,-1.5,-2.8,0.5,-0.9,-1.7,0.4,-2.3,-0.6,0.3,-1.4,-2.1,0.5,-1.0];
const mr=[1.0,0.4,-0.6,1.2,0.5,-0.9,0.7,1.4,-0.4,0.6,0.3,-1.1,0.9,0.5,-0.5,1.3,0.4,-0.8,1.0,0.6,-0.4,1.1,0.3,-1.0,0.8,0.5,-0.6,1.2,0.4,-0.9,0.7,1.5,-0.3,0.6,-1.2,0.9,0.4,-0.5,1.1,0.3,-0.8,0.6,1.0,-0.4,0.5,-1.3,0.9,0.3,-0.6,1.4,-0.5,0.7,0.4,-1.0,1.1,-0.3,0.6,-0.9,0.8,0.4,-0.6,1.2,0.5,-0.8,0.9,-0.4,0.6,1.0,-1.1,0.4,0.7,-0.5,1.3,-0.9,0.3,0.8,-0.6,1.1,0.4,-1.2,0.6,-0.4,1.0,0.3,-0.9,1.2,-0.6,0.5,0.8,-1.0,0.4,-0.5,1.1,0.6,-0.8,0.9,-0.3,0.5,-1.1,0.7,0.4,-0.7,1.3,-0.4,0.6,-1.2,0.8,0.3,-0.6,1.0,-0.9,0.5,0.4,-1.4,0.9,-0.3,0.6,-0.8,1.1,0.4,-0.5,0.9,-1.0,0.5,0.3,-0.7,1.2,-0.4,0.6,-1.1,0.8,0.4,-0.6,-3.5,-0.9,0.5,-0.3,1.0,-0.7,0.4,0.8,-0.5,0.4,-1.2,1.0,0.3,-0.8,0.6,-0.4,1.1,-0.9,0.5,0.3,-1.3,0.8,-0.5,0.6,-0.3,1.2,-0.7,0.5,-1.0,0.9,0.3,-0.6,1.3,-0.4,0.5,-1.1,0.8,0.4,-0.7,1.0,-0.5,0.6,-1.2,0.9,0.3,-0.6,1.1,-0.4,0.7,-0.9,0.5,1.2,-0.6,0.4,-1.0,0.8,0.3,-0.7,1.3,-0.5,0.6,-0.9,1.0,0.4,-0.8,0.6,-0.3,0.5];

const panelTitles=["ERA20C_ERAI","CERA20C_ERAI","ERAI","MERRA2","CanESM5 r1i1p1f1","CanESM5 r2i1p1f1","CanESM5 r3i1p1f1","CanESM5 r4i1p1f1","CanESM5 r5i1p1f1","CNRM-ESM2-1 r1i1p1f2","CNRM-ESM2-1 r2i1p1f2","CNRM-ESM2-1 r3i1p1f2","CNRM-ESM2-1 r4i1p1f2","CNRM-ESM2-1 r5i1p1f2","GISS-E2-1-G r1i1p1f2","GISS-E2-1-G r1i1p3f1","GISS-E2-1-G r1i1p5f1","GISS-E2-1-G r2i1p1f2","GISS-E2-1-G r3i1p1f2","GISS-E2-1-G r4i1p1f2","GISS-E2-1-G r5i1p1f2","GISS-E2-1-H r1i1p1f2","IPSL-CM6A-LR r14i1p1f1","IPSL-CM6A-LR r1i1p1f1","IPSL-CM6A-LR r2i1p1f1","IPSL-CM6A-LR r3i1p1f1","IPSL-CM6A-LR r4i1p1f1","IPSL-CM6A-LR r6i1p1f1","MIROC6 r1i1p1f1","MRI-ESM2-0 r1i1p1f1"];
const panelSeries=[era20c,cera20c,erai,merra2,cs1,cs2,cs3,cs4,cs5,cn1,cn2,cn3,cn4,cn5,gs1,gs2,gs3,gs4,gs5,gs6,gs7,gh,ip14,ip1,ip2,ip3,ip4,ip6,mi,mr];
const startYears=[1900,1901,1979,1980,1900,1900,1900,1900,1900,1900,1900,1900,1900,1900,1900,1900,1900,1900,1900,1900,1900,1900,1900,1900,1900,1900,1900,1900,1900,1900];
const yTops=[3,3,3,3,3,3,4,4,3,3,4,3,3,3,4,4,3,4,3,3,3,3,3,3,3,3,3,4,3,3];
const yBots=[-3,-3,-3,-3,-4,-4,-3,-3,-3,-3,-4,-3,-3,-3,-3,-3,-3,-3,-3,-3,-3,-3,-3,-4,-3,-3,-4,-3,-3,-4];

const NS="http://www.w3.org/2000/svg";
const g=document.getElementById('panels');
function el(tag,attrs,parent){const e=document.createElementNS(NS,tag);for(const k in attrs)e.setAttribute(k,attrs[k]);(parent||g).appendChild(e);return e;}
const slots=[[0,0],[0,1],[0,2],[0,3],[0,4],[1,0],[1,1],[1,2],[1,3],[1,4],[2,0],[2,1],[2,2],[2,3],[3,0],[3,1],[3,2],[3,3],[3,4],[4,0],[4,1],[4,2],[4,3],[4,4],[5,0],[5,1],[5,2],[5,3],[5,4],[6,2]];
const W=515,H=86;
panelSeries.forEach((vals,i)=>{
  const r=slots[i][0],c=slots[i][1];
  const L=60+599*c, T=182+168.2*r;
  const s=startYears[i];
  let x0,x1,majStart,majStep,minStep,minStart;
  if(i===0){x0=1899.8;x1=2019.6;majStart=1900;majStep=20;minStep=5;minStart=1900;}
  else if(i===1){x0=1900.7;x1=2019.4;majStart=1920;majStep=20;minStep=5;minStart=1905;}
  else if(i===2){x0=1978.5;x1=2019.7;majStart=1980;majStep=10;minStep=2;minStart=1980;}
  else if(i===3){x0=1979.5;x1=2018.4;majStart=1980;majStep=10;minStep=2;minStart=1980;}
  else {x0=1899.6;x1=2101.6;majStart=1920;majStep=40;minStep=10;minStart=1900;}
  const yt=yTops[i], yb=yBots[i];
  const X=v=>L+(v-x0)/(x1-x0)*W;
  const Y=v=>T+(yt-v)/(yt-yb)*H;
  const pg=el('g',{});
  
  
  const tt=el('text',{x:L+W/2,y:T-11,'font-size':18.5,'text-anchor':'middle',fill:'#000'},pg);
  tt.textContent=panelTitles[i];
  
  
  const cid='c'+i;
  const defs=el('defs',{},pg);
  const cpA=el('clipPath',{id:cid+'a'},defs); el('rect',{x:L,y:T,width:W,height:Y(0)-T},cpA);
  const cpB=el('clipPath',{id:cid+'b'},defs); el('rect',{x:L,y:Y(0),width:W,height:T+H-Y(0)},cpB);
  let pts=vals.map((v,k)=>X(s+k).toFixed(2)+','+Y(v).toFixed(2));
  const line=el('polyline',{points:pts.join(' '),fill:'none',stroke:'#cfcfcf','stroke-width':2.2},pg);
  
  
  const area='M'+X(s).toFixed(2)+','+Y(0).toFixed(2)+' L'+pts.join(' L')+' L'+X(s+vals.length-1).toFixed(2)+','+Y(0).toFixed(2)+' Z';
  const pos=el('path',{d:area,fill:'#ff8000','clip-path':'url(#'+cid+'a)'},pg);
  
  
  const neg=el('path',{d:area,fill:'#2a45ee','clip-path':'url(#'+cid+'b)'},pg);
  
  
  const zl=el('line',{x1:L,x2:L+W,y1:Y(0),y2:Y(0),stroke:'#a0a0a0','stroke-width':1.5},pg);
  
  
  // x ticks
  for(let yr=minStart;yr<=x1;yr+=minStep){ if(yr<x0)continue;
    const isMaj=((yr-majStart)%majStep===0)&&yr>=majStart;
    const len=isMaj?10.5:4.5; const xx=X(yr);
    el('line',{x1:xx,x2:xx,y1:T,y2:T-len,stroke:'#333','stroke-width':1.3},pg);
    el('line',{x1:xx,x2:xx,y1:T+H,y2:T+H+len,stroke:'#333','stroke-width':1.3},pg);
    if(isMaj){const lt=el('text',{x:xx,y:T+H+32,'font-size':15,'text-anchor':'middle',fill:'#000'},pg);lt.textContent=String(yr);
      
      }
  }
  // y ticks
  const step=(yt-yb)>=8?2:1; const mstep=step===2?0.5:0.2;
  for(let k=0;k<=Math.round((yt-yb)/mstep);k++){const v=yb+k*mstep;const yy=Y(v);
    el('line',{x1:L,x2:L-4.5,y1:yy,y2:yy,stroke:'#777','stroke-width':1},pg);
    el('line',{x1:L+W,x2:L+W+4.5,y1:yy,y2:yy,stroke:'#777','stroke-width':1},pg);}
  for(let v=yb;v<=yt+1e-6;v+=step){const yy=Y(v);
    el('line',{x1:L,x2:L-10,y1:yy,y2:yy,stroke:'#333','stroke-width':1.3},pg);
    el('line',{x1:L+W,x2:L+W+10,y1:yy,y2:yy,stroke:'#333','stroke-width':1.3},pg);
    const yl=el('text',{x:L-13,y:yy+4.5,'font-size':12.5,'text-anchor':'end',fill:'#000'},pg);yl.textContent=v.toFixed(1);
    
    }
  const box=el('rect',{x:L,y:T,width:W,height:H,fill:'none',stroke:'#333','stroke-width':1.6},pg);
  
  
});
</script>
</body></html>
